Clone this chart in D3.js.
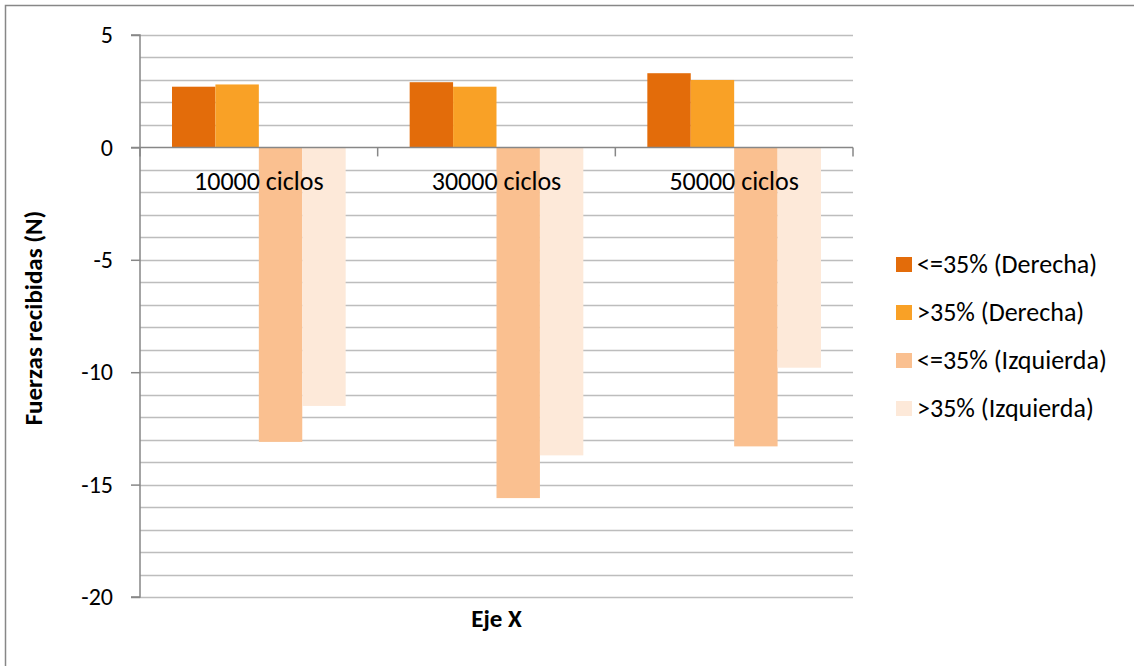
<!DOCTYPE html>
<html><head><meta charset="utf-8">
<script src="https://cdn.jsdelivr.net/npm/d3@7"></script>
<style>body{margin:0;background:#fff}svg{display:block}text{font-family:Carlito,Calibri,"Open Sans",sans-serif}</style>
</head><body>
<svg id="c" width="1134" height="666"></svg>
<script>
const categories = ["10000 ciclos", "30000 ciclos", "50000 ciclos"];
const seriesNames = ["<=35% (Derecha)", ">35% (Derecha)", "<=35% (Izquierda)", ">35% (Izquierda)"];
const derechaLow = [2.7, 2.9, 3.3];
const derechaHigh = [2.8, 2.7, 3.0];
const izquierdaLow = [-13.1, -15.6, -13.3];
const izquierdaHigh = [-11.5, -13.7, -9.8];
const colors = ["#E36C0A", "#F9A126", "#FAC090", "#FDE9D9"];
const yTicks = [5, 0, -5, -10, -15, -20];
const series = [derechaLow, derechaHigh, izquierdaLow, izquierdaHigh];

const svg = d3.select("#c");
const pLeft = 140, pRight = 853, pTop = 35, pBottom = 597;

svg.append("rect").attr("x", 5.5).attr("y", 5.5).attr("width", 1140).attr("height", 670)
  .attr("fill", "none").attr("stroke", "#878787").attr("stroke-width", 1.5);

const y = d3.scaleLinear().domain([-20, 5]).range([pBottom, pTop]);
const x0 = d3.scaleBand().domain(categories).range([pLeft, pRight]).paddingInner(0).paddingOuter(0);
const x1 = d3.scaleBand().domain(d3.range(4)).range([32, x0.bandwidth() - 32]);

// minor gridlines
const minor = d3.range(-20, 6, 1);
svg.append("g").selectAll("line").data(minor.filter(v => v !== 0)).join("line")
  .attr("x1", pLeft).attr("x2", pRight).attr("y1", d => Math.round(y(d)) + 0.5).attr("y2", d => Math.round(y(d)) + 0.5)
  .attr("stroke", "#BDBDBD").attr("stroke-width", 1.5);

// bars
const g = svg.append("g");
categories.forEach((c, i) => {
  series.forEach((s, j) => {
    const v = s[i];
    g.append("rect")
      .attr("x", x0(c) + x1(j))
      .attr("width", x1.bandwidth())
      .attr("y", y(Math.max(0, v)))
      .attr("height", Math.abs(y(v) - y(0)))
      .attr("fill", colors[j]);
  });
});

// y axis
const yAxis = d3.axisLeft(y).tickValues(yTicks).tickSize(9).tickPadding(18).tickFormat(d => String(d));
const ya = svg.append("g").attr("transform", `translate(${pLeft},0)`).call(yAxis);
ya.select(".domain").attr("stroke", "#878787").attr("stroke-width", 1.5).attr("d", `M-9,${pTop}H0V${pBottom}H-9`);
ya.selectAll(".tick line").attr("stroke", "#878787").attr("stroke-width", 1.5);
ya.selectAll(".tick text").attr("font-size", 24).attr("fill", "#000").style("font-family", "Carlito,Calibri,'Open Sans',sans-serif");

// x axis at zero
const xAxis = d3.axisBottom(x0).tickSize(0).tickFormat("");
const xa = svg.append("g").attr("transform", `translate(0,${y(0)})`).call(xAxis);
xa.select(".domain").attr("stroke", "#878787").attr("stroke-width", 1.5).attr("d", `M${pLeft - 9},0H${pRight}`);
const bounds = [pLeft, ...categories.map(c => x0(c) + x0.bandwidth())];
xa.selectAll(".bt").data(bounds).join("line").attr("class", "bt")
  .attr("x1", d => d).attr("x2", d => d).attr("y1", 0).attr("y2", 9)
  .attr("stroke", "#878787").attr("stroke-width", 1.5);

// category labels
svg.append("g").selectAll("text").data(categories).join("text")
  .attr("x", d => x0(d) + x0.bandwidth() / 2).attr("y", y(0) + 43)
  .attr("text-anchor", "middle").attr("font-size", 26).attr("fill", "#000").text(d => d);

// axis titles
svg.append("text").attr("transform", `translate(42,${(pTop + pBottom) / 2 + 2}) rotate(-90)`)
  .attr("text-anchor", "middle").attr("font-size", 25).attr("font-weight", "bold").text("Fuerzas recibidas (N)");
svg.append("text").attr("x", (pLeft + pRight) / 2).attr("y", 627)
  .attr("text-anchor", "middle").attr("font-size", 25).attr("font-weight", "bold").text("Eje X");

// legend
const lg = svg.append("g").selectAll("g").data(seriesNames).join("g")
  .attr("transform", (d, i) => `translate(896,${257 + i * 48})`);
lg.append("rect").attr("width", 16).attr("height", 15).attr("fill", (d, i) => colors[i]);
lg.append("text").attr("x", 21).attr("y", 16).attr("font-size", 26).attr("fill", "#000").text(d => d);
</script>
</body></html>
